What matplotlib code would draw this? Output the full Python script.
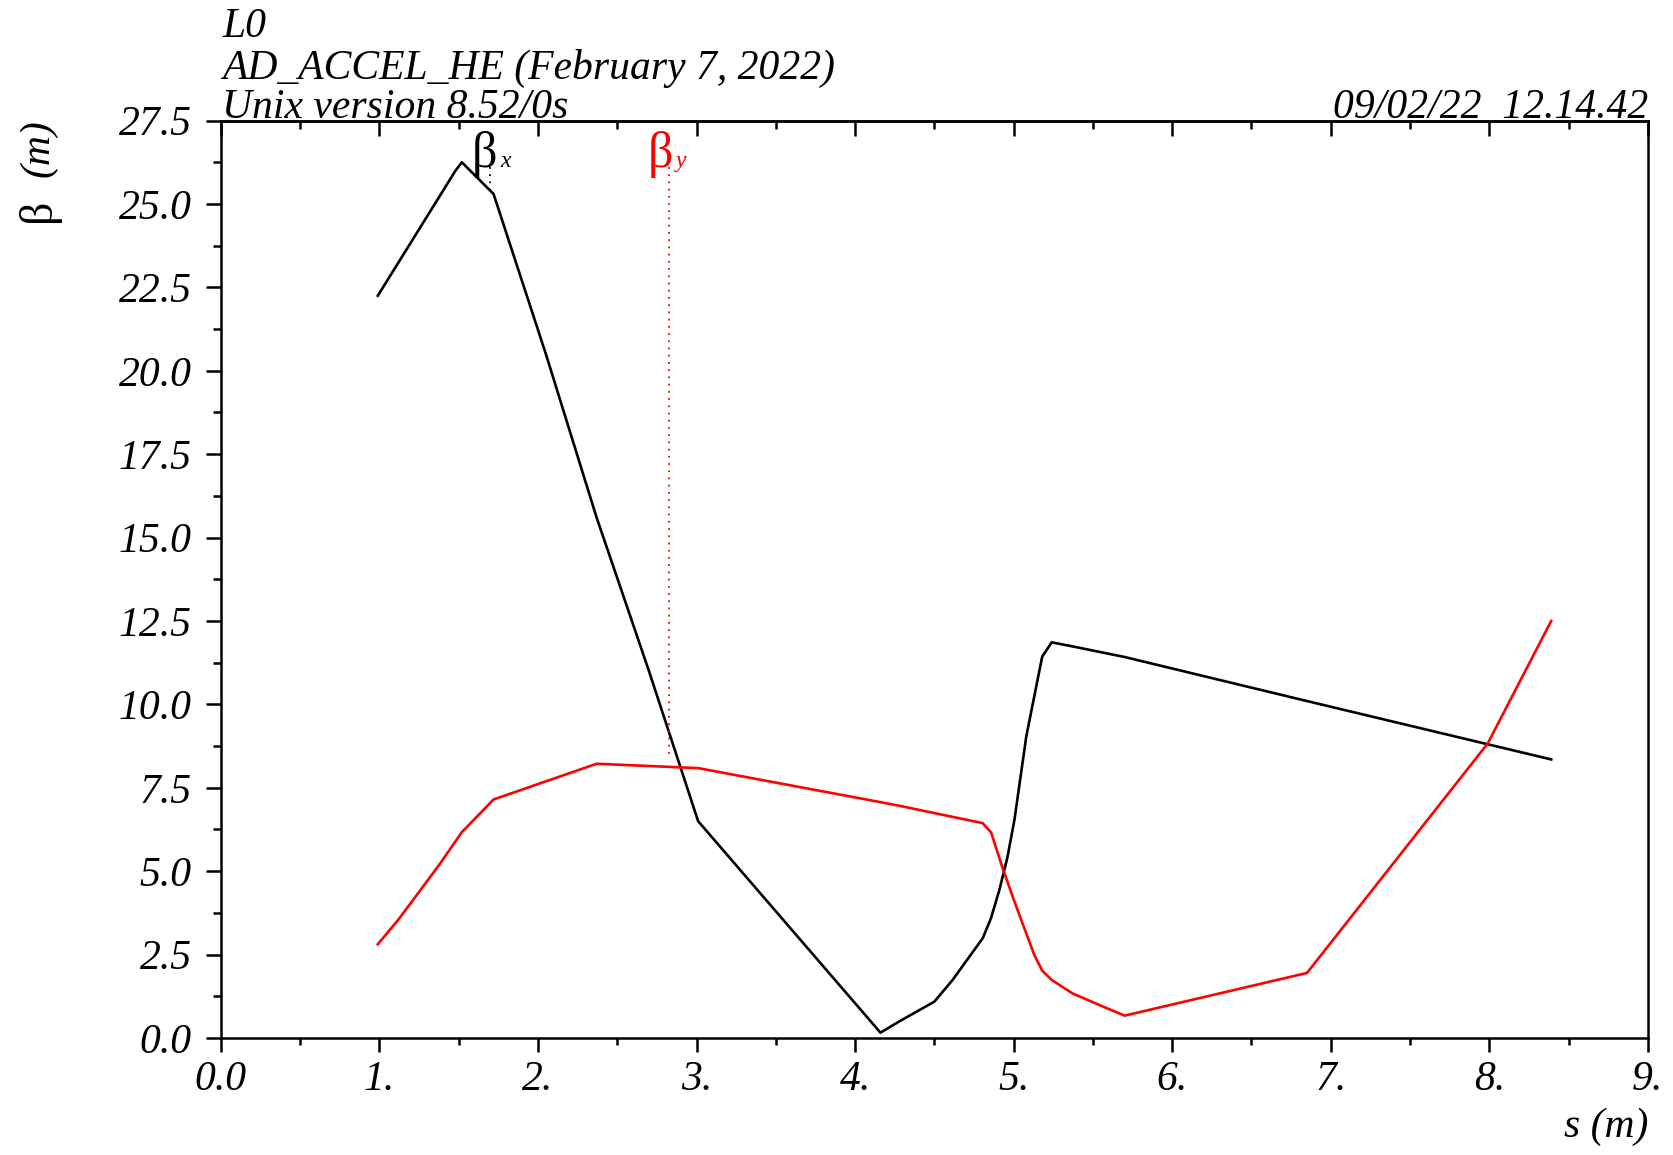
# Beta functions along the line (MAD style plot)
import matplotlib
matplotlib.use("Agg")
import matplotlib.pyplot as plt
from matplotlib.ticker import MultipleLocator

# data
s_x = [0.99, 1.48, 1.52, 1.72, 2.05, 2.37, 2.70, 3.01, 4.16, 4.28, 4.50, 4.615, 4.70,
       4.805, 4.857, 4.91, 4.96, 5.005, 5.08, 5.18, 5.24, 5.37, 5.70, 6.85, 8.39]
beta_x = [22.25, 26.0, 26.25, 25.3, 20.5, 15.6, 11.0, 6.5, 0.16, 0.5, 1.09, 1.74, 2.3,
          2.99, 3.59, 4.44, 5.4, 6.54, 9.05, 11.43, 11.86, 11.74, 11.42, 10.1, 8.35]

s_y = [0.99, 1.12, 1.23, 1.38, 1.52, 1.72, 2.37, 3.01, 4.16, 4.28, 4.805, 4.858,
       4.93, 5.005, 5.13, 5.18, 5.24, 5.37, 5.54, 5.70, 6.85, 7.99, 8.39]
beta_y = [2.81, 3.55, 4.25, 5.21, 6.17, 7.15, 8.22, 8.09, 7.07, 6.96, 6.44, 6.16,
          5.1, 4.09, 2.49, 2.02, 1.74, 1.34, 0.99, 0.67, 1.95, 8.83, 12.5]

x_ticks = [0, 1, 2, 3, 4, 5, 6, 7, 8, 9]
x_ticklabels = ["0.0", "1.", "2.", "3.", "4.", "5.", "6.", "7.", "8.", "9."]
y_ticks = [0, 2.5, 5, 7.5, 10, 12.5, 15, 17.5, 20, 22.5, 25, 27.5]
y_ticklabels = ["0.0", "2.5", "5.0", "7.5", "10.0", "12.5", "15.0", "17.5",
                "20.0", "22.5", "25.0", "27.5"]

# label markers: (s position, curve value where the dotted pointer stops)
mark_x = (1.695, 25.4)
mark_y = (2.825, 8.35)

FONT = "Liberation Serif"
FS = 30

fig = plt.figure(figsize=(16.73, 11.55), dpi=100)
ax = fig.add_axes([0.132, 0.1013, 0.853, 0.7943])

ax.plot(s_x, beta_x, color="black", lw=1.9)
ax.plot(s_y, beta_y, color="red", lw=1.9)

ax.set_xlim(0, 9)
ax.set_ylim(0, 27.5)

ax.set_xticks(x_ticks)
ax.set_xticklabels(x_ticklabels, fontfamily=FONT, style="italic", fontsize=FS)
ax.set_yticks(y_ticks)
ax.set_yticklabels(y_ticklabels, fontfamily=FONT, style="italic", fontsize=FS)
ax.xaxis.set_minor_locator(MultipleLocator(0.5))
ax.yaxis.set_minor_locator(MultipleLocator(1.25))

ax.tick_params(axis="x", which="both", direction="out", bottom=True, top=False,
               width=1.8, pad=6)
ax.tick_params(axis="x", which="major", length=10)
ax.tick_params(axis="x", which="minor", length=5)
ax.tick_params(axis="y", which="both", direction="out", left=True, right=False,
               width=1.8, pad=10)
ax.tick_params(axis="y", which="major", length=11)
ax.tick_params(axis="y", which="minor", length=6)

# inward ticks on the top edge
top = ax.secondary_xaxis("top")
top.set_xticks(x_ticks)
top.set_xticklabels([])
top.xaxis.set_minor_locator(MultipleLocator(0.5))
top.tick_params(which="both", direction="in", width=1.8)
top.tick_params(which="major", length=11)
top.tick_params(which="minor", length=6)
top.spines["top"].set_linewidth(1.8)

for sp in ax.spines.values():
    sp.set_linewidth(1.8)

# curve labels with dotted pointers
ax.plot([mark_x[0], mark_x[0]], [26.1, mark_x[1]], color="black", lw=1.3, ls=(0, (1, 3)))
ax.plot([mark_y[0], mark_y[0]], [26.1, mark_y[1]], color="red", lw=1.3, ls=(0, (1, 3)))
ax.text(1.58, 26.1, "β", color="black", fontfamily=FONT, fontsize=36, va="baseline")
ax.text(1.76, 26.1, "x", color="black", fontfamily=FONT, style="italic",
        fontsize=17, va="baseline")
ax.text(2.69, 26.1, "β", color="red", fontfamily=FONT, fontsize=36, va="baseline")
ax.text(2.87, 26.1, "y", color="red", fontfamily=FONT, style="italic",
        fontsize=17, va="baseline")

# header
hdr = dict(fontfamily=FONT, style="italic", fontsize=FS)
fig.text(0.1327, 0.968, "L0", ha="left", va="baseline", **hdr)
fig.text(0.1327, 0.932, "AD_ACCEL_HE (February 7, 2022)", ha="left", va="baseline", **hdr)
fig.text(0.1327, 0.8975, "Unix version 8.52/0s", ha="left", va="baseline", **hdr)
fig.text(0.985, 0.8975, "09/02/22  12.14.42", ha="right", va="baseline", **hdr)

# axis titles
fig.text(0.985, 0.008, "s (m)", ha="right", va="bottom", **hdr)
fig.text(0.023, 0.818, "β", rotation=90, ha="center", va="center",
         fontfamily=FONT, fontsize=33)
fig.text(0.023, 0.872, "(m)", rotation=90, ha="center", va="center",
         fontfamily=FONT, style="italic", fontsize=FS)

fig.savefig("out.png", dpi=100)
